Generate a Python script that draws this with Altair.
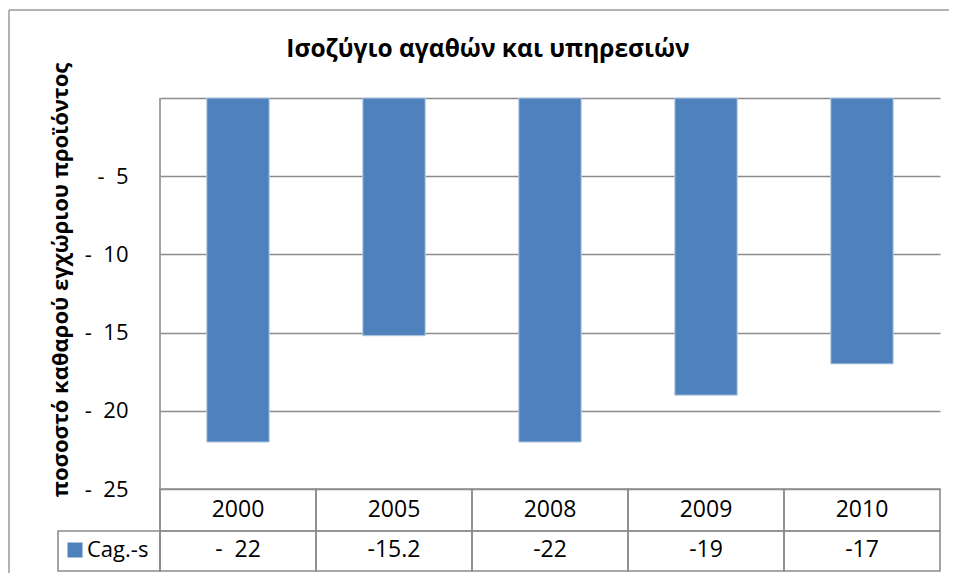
import altair as alt
import pandas as pd

NB = "\u00a0"
years = ["2000", "2005", "2008", "2009", "2010"]
values = [-22, -15.2, -22, -19, -17]
table_labels = ["-" + NB + NB + "22", "-15.2", "-22", "-19", "-17"]
y_ticks = [0, -5, -10, -15, -20, -25]
series_name = ["Cag.-s"]
chart_title = ["Ισοζύγιο αγαθών και υπηρεσιών"]
y_title = ["ποσοστό καθαρού εγχώριου προϊόντος"]

df = pd.DataFrame({"year": years, "value": values, "label": table_labels})
one = pd.DataFrame({"name": series_name, "title": chart_title, "ytitle": y_title})

W, H = 780, 391
FONT = "Open Sans"
GRID = "#8c8c8c"
BLUE = "#4F81BD"

xenc = alt.X("year:N", sort=years, axis=None,
             scale=alt.Scale(paddingInner=0, paddingOuter=0))
yscale = alt.Scale(domain=[-25, 0], nice=False, zero=False)

base = alt.Chart(df)

grid = base.mark_bar(opacity=0).encode(
    x=xenc,
    y=alt.Y("value:Q", scale=yscale,
            axis=alt.Axis(values=y_ticks, grid=True, gridColor=GRID, gridWidth=1.6,
                          domain=False, ticks=False, tickSize=0, labelPadding=32,
                          labelExpr="datum.value == 0 ? '' : '-\u00a0\u00a0' + abs(datum.value)",
                          labelFont=FONT, labelFontSize=22, labelColor="black",
                          title=None)),
    y2=alt.datum(0),
)

bars = base.mark_bar(color=BLUE, width=alt.RelativeBandSize(0.4),
                     stroke="#b9cde5", strokeWidth=1).encode(
    x=xenc,
    y=alt.Y("value:Q", scale=yscale),
    y2=alt.datum(0),
)

left_line = alt.Chart(one).mark_rule(color=GRID, strokeWidth=1.6).encode(
    x=alt.value(0), y=alt.value(0), y2=alt.value(H + 82)
)

row1 = base.mark_rect(fill="transparent", stroke=GRID, strokeWidth=1.6).encode(
    x=xenc, y=alt.value(H), y2=alt.value(H + 42)
)
row2 = base.mark_rect(fill="transparent", stroke=GRID, strokeWidth=1.6).encode(
    x=xenc, y=alt.value(H + 42), y2=alt.value(H + 82)
)
legend_cell = alt.Chart(one).mark_rect(fill="transparent", stroke=GRID, strokeWidth=1.6).encode(
    x=alt.value(-102), x2=alt.value(0), y=alt.value(H + 42), y2=alt.value(H + 82)
)
swatch = alt.Chart(one).mark_square(size=225, color=BLUE, opacity=1).encode(
    x=alt.value(-85), y=alt.value(H + 61)
)
legend_text = alt.Chart(one).mark_text(font=FONT, fontSize=22, align="left",
                                       baseline="middle", color="black").encode(
    x=alt.value(-73), y=alt.value(H + 61), text="name:N"
)

year_text = base.mark_text(font=FONT, fontSize=23, baseline="middle", color="black").encode(
    x=xenc, y=alt.value(H + 21), text="year:N"
)
value_text = base.mark_text(font=FONT, fontSize=23, baseline="middle", color="black").encode(
    x=xenc, y=alt.value(H + 61), text="label:N"
)

title_text = alt.Chart(one).mark_text(font=FONT, fontSize=24.5, fontWeight="bold",
                                      baseline="middle", color="black").encode(
    x=alt.value(328), y=alt.value(-48), text="title:N"
)
ytitle_text = alt.Chart(one).mark_text(font=FONT, fontSize=22, fontWeight="bold",
                                       baseline="middle", angle=270, color="black").encode(
    x=alt.value(-99), y=alt.value(182), text="ytitle:N"
)

outer_top = alt.Chart(one).mark_rule(color="#9a9a9a", strokeWidth=1.5).encode(
    x=alt.value(-151), x2=alt.value(W + 40), y=alt.value(-88)
)
outer_left = alt.Chart(one).mark_rule(color="#9a9a9a", strokeWidth=1.5).encode(
    x=alt.value(-151), y=alt.value(-88), y2=alt.value(H + 120)
)

chart = alt.layer(
    outer_top, outer_left, grid, bars, left_line, row1, row2, legend_cell, swatch,
    legend_text, year_text, value_text, title_text, ytitle_text
).properties(
    width=W, height=H,
    autosize=alt.AutoSizeParams(type="none"),
    padding={"left": 152, "top": 90, "right": 9, "bottom": 84},
).configure_view(stroke=None)

chart.save("out.html", embed_options={"renderer": "svg", "actions": False})
